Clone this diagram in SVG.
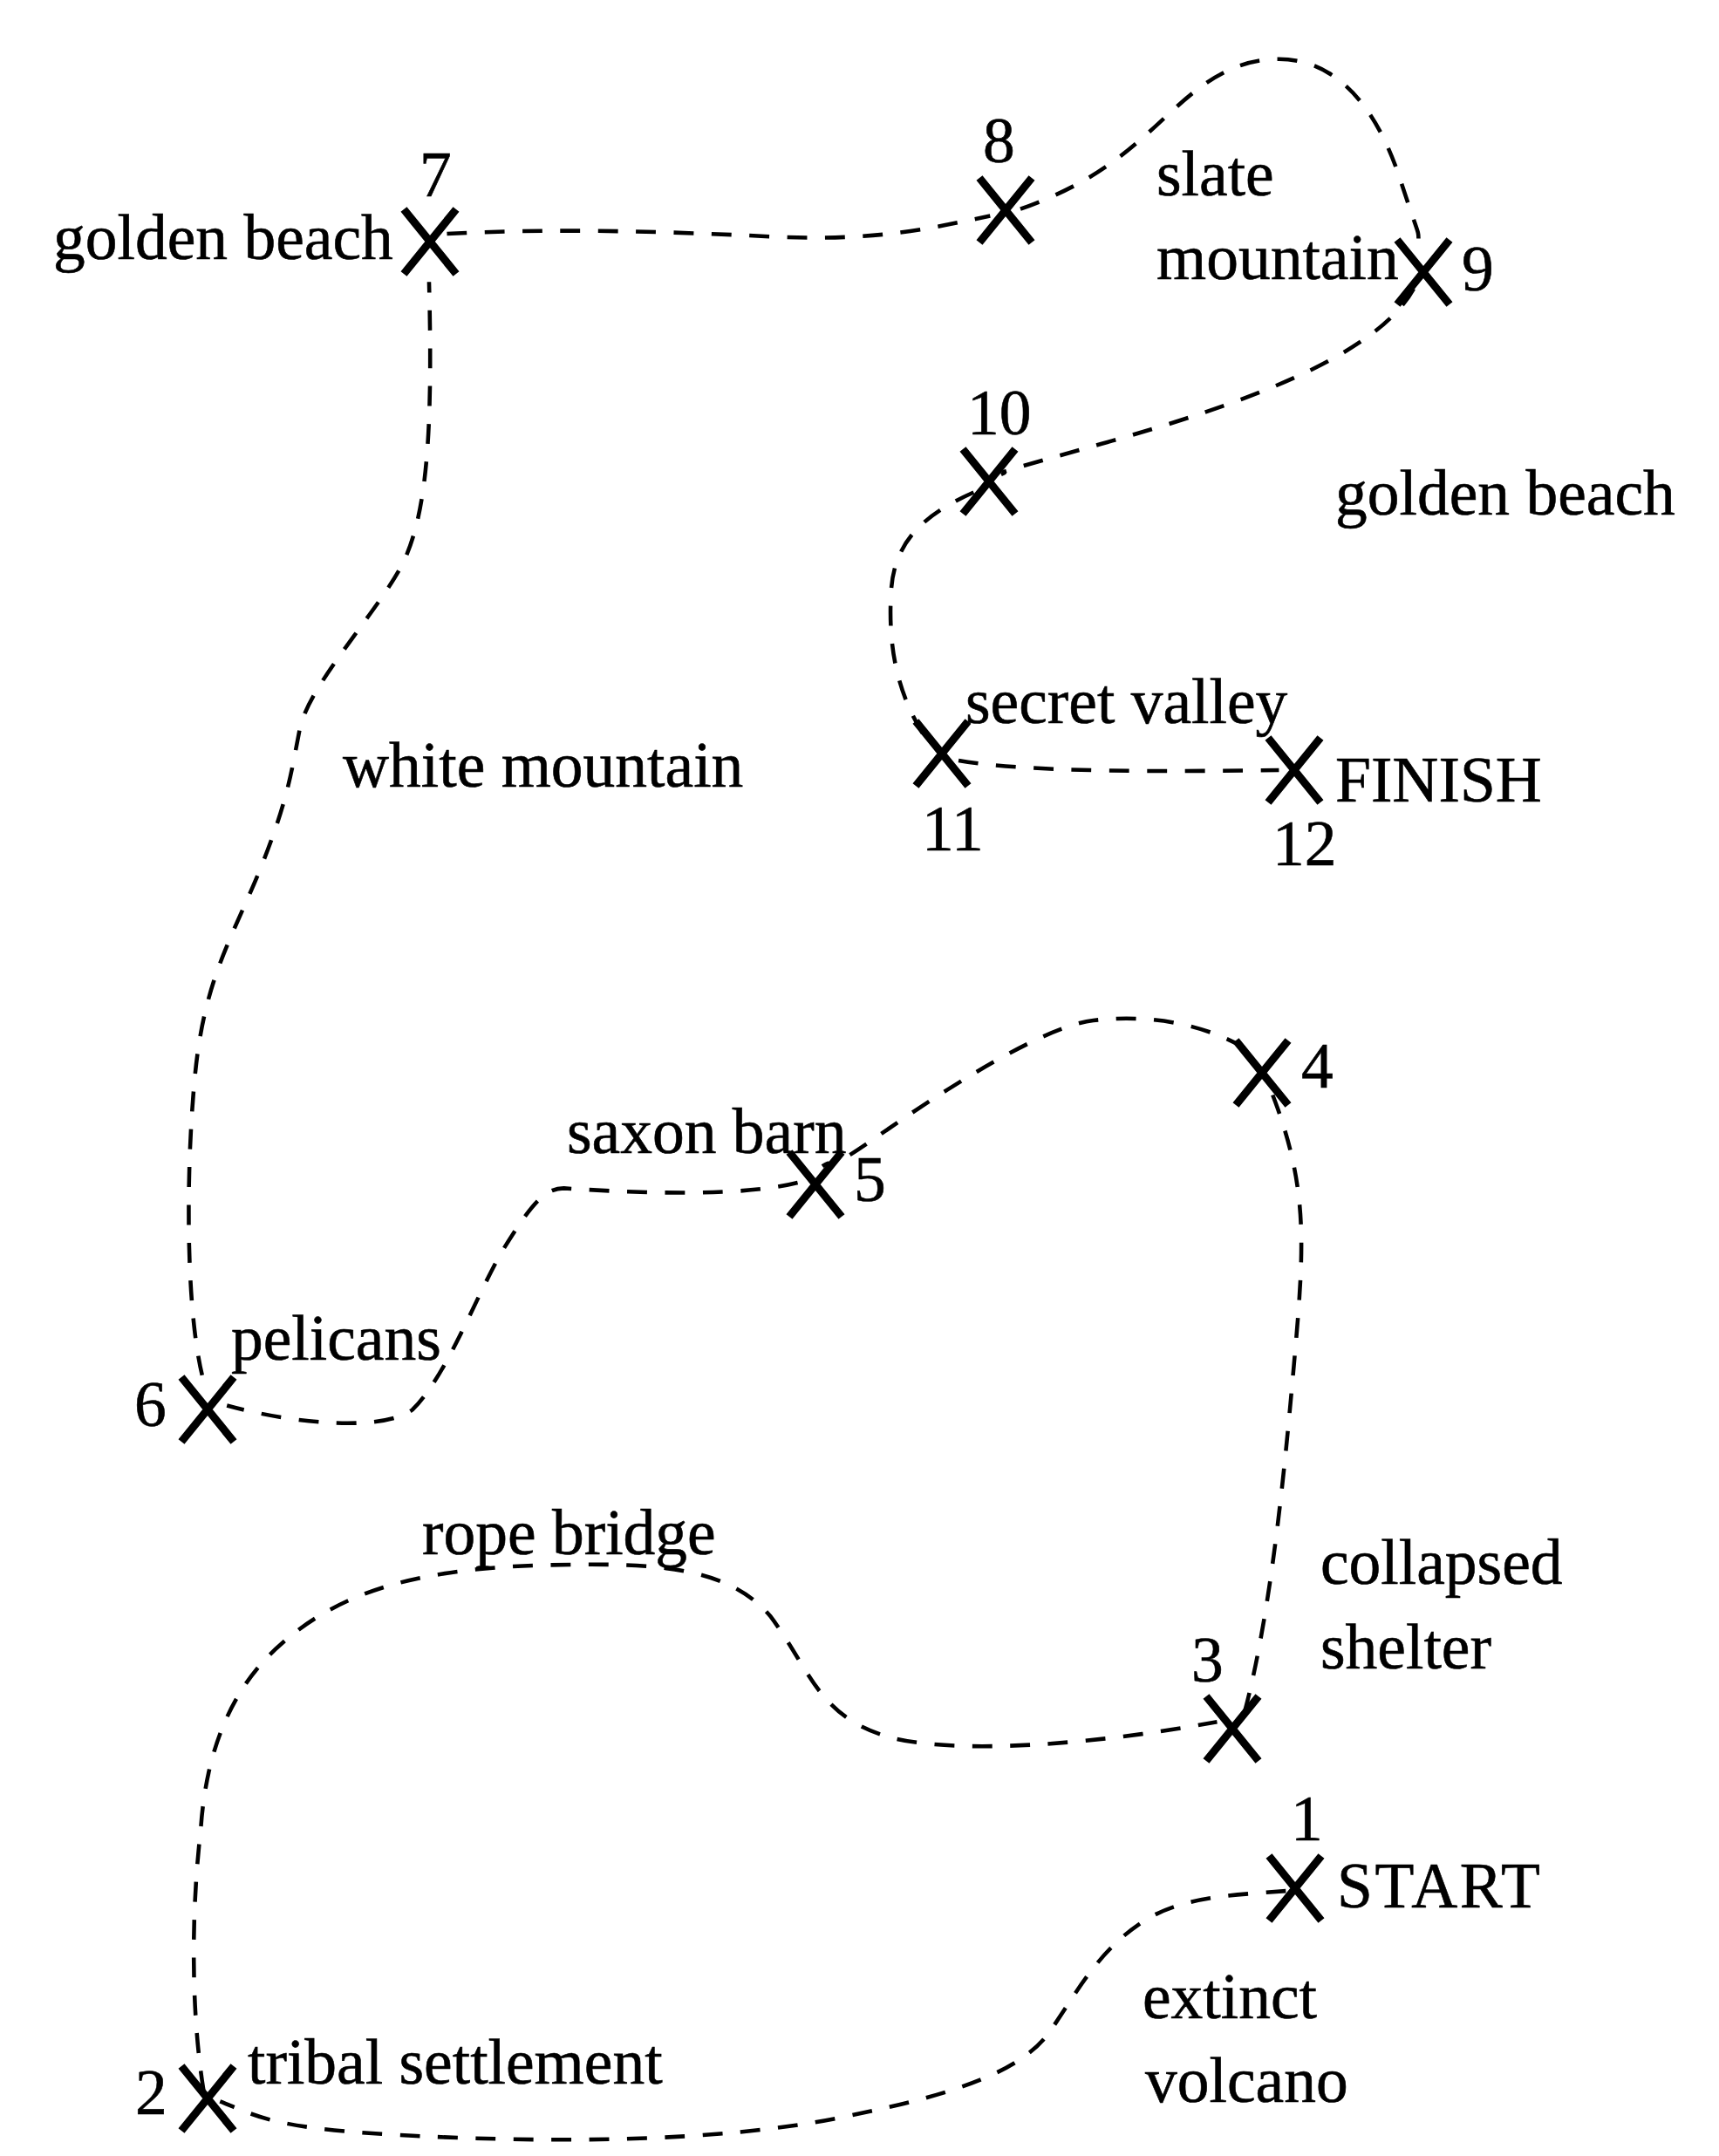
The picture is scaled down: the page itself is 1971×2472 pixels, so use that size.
<svg xmlns="http://www.w3.org/2000/svg" width="1971" height="2472" viewBox="0 0 1971 2472">
<style>
text{font-family:"Liberation Serif","Times New Roman",serif;font-size:73.5px;fill:#000;stroke:#000;stroke-width:.6}
.x{stroke:#000;stroke-width:9;fill:none}
.c{stroke:#000;stroke-width:2.9;fill:none;stroke-dasharray:14.5 13}
</style>
<defs><path id="cross" class="x" d="M-30 -37L30 37M30 -37L-30 37"/></defs>
<rect width="1971" height="2472" fill="#fff"/>
<g id="connectors" transform="scale(1.5768)">
<path class="c" d="M935 1375C900 1378 860 1378 830 1398S785 1445 765 1475S700 1522 610 1540S400 1558 300 1553S190 1540 160 1528"/>
<path class="c" d="M148 1520C140 1470 138 1400 146 1330C150 1270 170 1225 205 1195C250 1155 310 1140 400 1138C480 1136 530 1140 560 1175C590 1215 595 1250 650 1264C700 1276 800 1268 885 1252"/>
<path class="c" d="M905 1245C925 1170 935 1060 942 980S950 860 925 795"/>
<path class="c" d="M905 762C870 742 830 738 795 742S690 790 640 825S610 840 598 848"/>
<path class="c" d="M580 860C540 870 470 868 410 864C395 864 385 878 365 910C345 945 325 1000 300 1025C280 1040 220 1037 165 1022"/>
<path class="c" d="M147 1000C135 950 135 850 142 780S170 680 190 630S212 560 218 530S270 450 290 415S315 320 312 205"/>
<path class="c" d="M325 170C400 166 480 168 560 172S680 165 720 157"/>
<path class="c" d="M742 152C790 135 815 115 840 92S890 43 930 43S1000 75 1018 130S1030 160 1032 185"/>
<path class="c" d="M1028 210C1000 260 900 295 800 323S740 340 728 345"/>
<path class="c" d="M708 358C670 375 650 395 648 430S650 500 672 535"/>
<path class="c" d="M697 553C750 562 850 561 930 560"/>
</g>
<g id="n1"><use href="#cross" x="1485" y="2165"/><text x="1480" y="2110">1</text><text x="1533" y="2187" textLength="233" lengthAdjust="spacing">START</text></g>
<g id="n2"><use href="#cross" x="238" y="2406"/><text x="155" y="2424">2</text><text x="284" y="2389">tribal settlement</text></g>
<g id="n3"><use href="#cross" x="1413" y="1982"/><text x="1366" y="1928">3</text></g>
<g id="n4"><use href="#cross" x="1447" y="1230"/><text x="1492" y="1247">4</text></g>
<g id="n5"><use href="#cross" x="935" y="1358"/><text x="979" y="1377">5</text></g>
<g id="n6"><use href="#cross" x="238" y="1616"/><text x="154" y="1635">6</text></g>
<g id="n7"><use href="#cross" x="493" y="277"/><text x="481" y="225">7</text><text x="61" y="297">golden beach</text></g>
<g id="n8"><use href="#cross" x="1153" y="241"/><text x="1127" y="186">8</text></g>
<g id="n9"><use href="#cross" x="1632" y="312"/><text x="1676" y="333">9</text></g>
<g id="n10"><use href="#cross" x="1134" y="552"/><text x="1109" y="498">10</text></g>
<g id="n11"><use href="#cross" x="1080" y="864"/><text x="1057" y="975">11</text></g>
<g id="n12"><use href="#cross" x="1484" y="883"/><text x="1459" y="992">12</text><text x="1531" y="919">FINISH</text></g>
<g id="labels">
<text x="1326" y="224">slate</text>
<text x="1326" y="320">mountain</text>
<text x="1531" y="590">golden beach</text>
<text x="1107" y="829">secret valley</text>
<text x="393" y="902">white mountain</text>
<text x="650" y="1322">saxon barn</text>
<text x="265" y="1559">pelicans</text>
<text x="484" y="1782">rope bridge</text>
<text x="1514" y="1816">collapsed</text>
<text x="1514" y="1913">shelter</text>
<text x="1310" y="2314">extinct</text>
<text x="1313" y="2410">volcano</text>
</g>
</svg>
